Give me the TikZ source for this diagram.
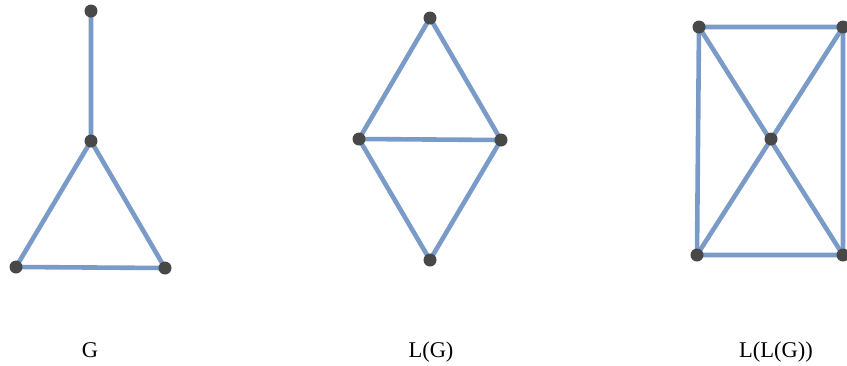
\documentclass[tikz,border=0pt]{standalone}
\usepackage{fontspec}
\setmainfont{Liberation Serif}
\definecolor{edgeblue}{RGB}{122,155,200}
\definecolor{dotgray}{RGB}{72,72,72}
\begin{document}
\begin{tikzpicture}[x=1pt,y=-1pt,
  vtx/.style={circle,fill=dotgray,inner sep=0pt,minimum size=13pt},
  edge/.style={draw=edgeblue,line width=4.6pt},
  lbl/.style={font=\fontsize{22.5}{27}\selectfont,anchor=base,inner sep=0pt}]
\path[use as bounding box] (0,0) rectangle (847,365);
% G
\coordinate (a) at (91,11);
\coordinate (b) at (91,141);
\coordinate (c) at (16,267);
\coordinate (d) at (165,268);
\draw[edge] (a) -- (b) -- (c) -- (d) -- (b);
\foreach \p in {a,b,c,d} \node[vtx] (v\p) at (\p) {};
% L(G)
\coordinate (t) at (430,18);
\coordinate (l) at (359,139);
\coordinate (r) at (501,140);
\coordinate (u) at (430,260);
\draw[edge] (t) -- (l) -- (u) -- (r) -- (t);
\draw[edge] (l) -- (r);
\foreach \p in {t,l,r,u} \node[vtx] (v\p) at (\p) {};
% L(L(G))
\coordinate (tl) at (699,27);
\coordinate (tr) at (843,27);
\coordinate (cc) at (771,139);
\coordinate (bl) at (697,255);
\coordinate (br) at (843,255);
\draw[edge] (tl) -- (tr) -- (br) -- (bl) -- cycle;
\draw[edge] (tl) -- (br);
\draw[edge] (tr) -- (bl);
\foreach \p in {tl,tr,cc,bl,br} \node[vtx] (v\p) at (\p) {};
% labels
\node[lbl] (lg) at (90,357) {G};
\node[lbl] (llg) at (431,357) {L(G)};
\node[lbl] (lllg) at (776,357) {L(L(G))};
\end{tikzpicture}
\end{document}
